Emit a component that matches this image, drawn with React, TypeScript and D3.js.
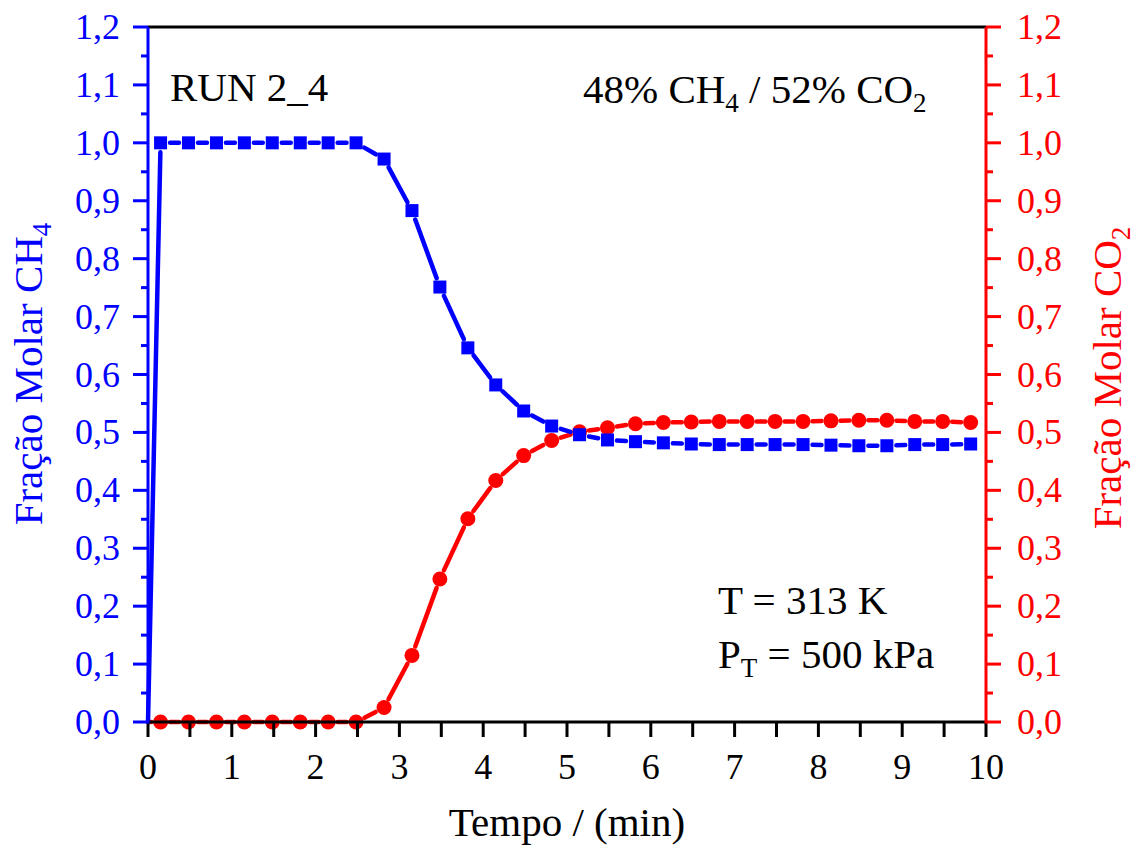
import React, { useEffect, useRef } from "react";
import * as d3 from "d3";

// time (min) for the sampled points, 20 s apart
const tempo = [
  0, 0.15, 0.483, 0.817, 1.15, 1.483, 1.817, 2.15, 2.483, 2.817, 3.15, 3.483, 3.817,
  4.15, 4.483, 4.817, 5.15, 5.483, 5.817, 6.15, 6.483, 6.817, 7.15, 7.483, 7.817,
  8.15, 8.483, 8.817, 9.15, 9.483, 9.817,
];

const ch4 = [
  0, 1.0, 1.0, 1.0, 1.0, 1.0, 1.0, 1.0, 1.0, 0.972, 0.883, 0.751, 0.646, 0.582,
  0.537, 0.511, 0.496, 0.487, 0.484, 0.482, 0.48, 0.479, 0.479, 0.479, 0.479,
  0.478, 0.477, 0.477, 0.479, 0.479, 0.48,
];

const co2 = [
  0, 0, 0, 0, 0, 0, 0, 0, 0, 0.025, 0.115, 0.247, 0.351, 0.417, 0.46, 0.486,
  0.501, 0.508, 0.515, 0.517, 0.518, 0.519, 0.519, 0.519, 0.519, 0.52, 0.521,
  0.521, 0.519, 0.519, 0.517,
];

const xTicks = [0, 1, 2, 3, 4, 5, 6, 7, 8, 9, 10];
const yTicks = [0, 0.1, 0.2, 0.3, 0.4, 0.5, 0.6, 0.7, 0.8, 0.9, 1.0, 1.1, 1.2];

const BLUE = "#0000ff";
const RED = "#ff0000";
const FONT = "'Liberation Serif', 'Times New Roman', serif";

export default function App() {
  const svgRef = useRef<SVGSVGElement | null>(null);

  useEffect(() => {
    const svg = d3.select(svgRef.current);
    svg.selectAll("*").remove();

    const left = 148, right = 986, top = 27, bottom = 722;
    const x = d3.scaleLinear().domain([0, 10]).range([left, right]);
    const y = d3.scaleLinear().domain([0, 1.2]).range([bottom, top]);
    const fmt = (v: number) => v.toFixed(1).replace(".", ",");

    // frame top line
    svg.append("line")
      .attr("x1", left).attr("x2", right).attr("y1", top).attr("y2", top)
      .attr("stroke", "#000").attr("stroke-width", 3);

    // series: straight segments with a gap at each symbol
    const drawSeries = (vals: number[], color: string, gap: number) => {
      const pts = tempo.map((t, i) => [x(t), y(vals[i])]);
      const g = svg.append("g");
      for (let i = 0; i < pts.length - 1; i++) {
        const [x1, y1] = pts[i];
        const [x2, y2] = pts[i + 1];
        const len = Math.hypot(x2 - x1, y2 - y1);
        const g1 = i === 0 ? 0 : gap; // no symbol at origin
        if (len <= g1 + gap + 1) continue;
        const ux = (x2 - x1) / len, uy = (y2 - y1) / len;
        g.append("line")
          .attr("x1", x1 + ux * g1).attr("y1", y1 + uy * g1)
          .attr("x2", x2 - ux * gap).attr("y2", y2 - uy * gap)
          .attr("stroke", color).attr("stroke-width", 4.5)
          .attr("stroke-linecap", "round");
      }
      return { g, pts: pts.slice(1) };
    };

    const red = drawSeries(co2, RED, 9.5);
    red.g.selectAll("circle").data(red.pts).join("circle")
      .attr("cx", (d) => d[0]).attr("cy", (d) => d[1]).attr("r", 7.5)
      .attr("fill", RED);

    const blue = drawSeries(ch4, BLUE, 9.5);
    blue.g.selectAll("rect.m").data(blue.pts).join("rect")
      .attr("class", "m")
      .attr("x", (d) => d[0] - 6.5).attr("y", (d) => d[1] - 6.5)
      .attr("width", 13).attr("height", 13)
      .attr("fill", BLUE);

    // bottom axis
    const xa = svg.append("g").attr("font-family", FONT);
    xa.append("line")
      .attr("x1", left).attr("x2", right).attr("y1", bottom).attr("y2", bottom)
      .attr("stroke", "#000").attr("stroke-width", 3);
    d3.range(0, 10.01, 0.5).forEach((t) => {
      xa.append("line")
        .attr("x1", x(t)).attr("x2", x(t)).attr("y1", bottom).attr("y2", bottom + 15)
        .attr("stroke", "#000").attr("stroke-width", 3);
    });
    xa.selectAll("text").data(xTicks).join("text")
      .attr("x", (d) => x(d)).attr("y", 779)
      .attr("text-anchor", "middle").attr("font-size", 36)
      .text((d) => String(d));
    xa.append("text")
      .attr("x", 567).attr("y", 836)
      .attr("text-anchor", "middle").attr("font-size", 41)
      .text("Tempo / (min)");

    // vertical axes
    const yAxis = (xPos: number, dir: number, color: string, title: string, sub: string) => {
      const g = svg.append("g").attr("font-family", FONT).attr("fill", color);
      g.append("line")
        .attr("x1", xPos).attr("x2", xPos).attr("y1", top).attr("y2", bottom + 1.5)
        .attr("stroke", color).attr("stroke-width", 3);
      d3.range(0, 1.201, 0.05).forEach((v, i) => {
        const len = i % 2 === 0 ? 15 : 7;
        g.append("line")
          .attr("x1", xPos).attr("x2", xPos + dir * len)
          .attr("y1", y(v)).attr("y2", y(v))
          .attr("stroke", color).attr("stroke-width", 3);
      });
      g.selectAll("text.tk").data(yTicks).join("text")
        .attr("class", "tk")
        .attr("x", dir < 0 ? xPos - 28 : xPos + 31).attr("y", (d) => y(d) + 12)
        .attr("text-anchor", dir < 0 ? "end" : "start")
        .attr("font-size", 36)
        .text((d) => fmt(d));
      const tx = dir < 0 ? 42 : 1121;
      const ty = dir < 0 ? 374 : 378;
      const t = g.append("text")
        .attr("transform", `translate(${tx},${ty}) rotate(-90)`)
        .attr("text-anchor", "middle").attr("font-size", 41);
      t.append("tspan").text(title);
      t.append("tspan").attr("dy", 9).attr("font-size", 27).text(sub);
    };
    yAxis(left, -1, BLUE, "Fração Molar CH", "4");
    yAxis(right, 1, RED, "Fração Molar CO", "2");

    // annotations
    const ann = svg.append("g").attr("font-family", FONT).attr("font-size", 41).attr("fill", "#000");
    ann.append("text").attr("x", 170).attr("y", 101).text("RUN 2_4");
    const mix = ann.append("text").attr("x", 583).attr("y", 103);
    mix.append("tspan").text("48% CH");
    mix.append("tspan").attr("dy", 9).attr("font-size", 27).text("4");
    mix.append("tspan").attr("dy", -9).text(" / 52% CO");
    mix.append("tspan").attr("dy", 9).attr("font-size", 27).text("2");
    ann.append("text").attr("x", 718).attr("y", 614).text("T = 313 K");
    const pt = ann.append("text").attr("x", 718).attr("y", 668);
    pt.append("tspan").text("P");
    pt.append("tspan").attr("dy", 9).attr("font-size", 27).text("T");
    pt.append("tspan").attr("dy", -9).text(" = 500 kPa");
  }, []);

  return (
    <svg
      ref={svgRef}
      width={1136}
      height={846}
      style={{ position: "absolute", left: 0, top: 0, background: "white" }}
    />
  );
}
